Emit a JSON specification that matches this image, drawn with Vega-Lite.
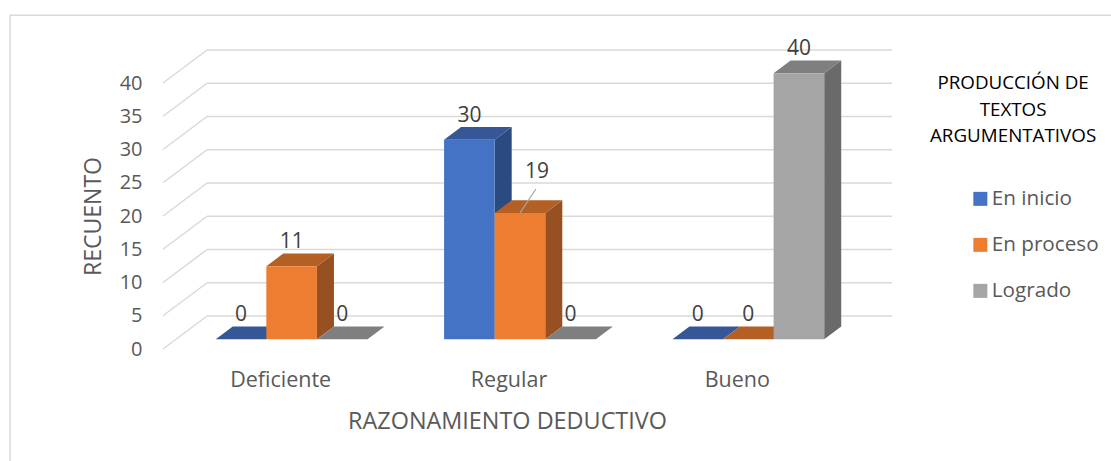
{
"$schema":"https://vega.github.io/schema/vega-lite/v6.json",
"width":685,"height":266,
"autosize":"none",
"padding":{"left":163,"top":83,"right":263,"bottom":112},
"background":"white",
"config":{"view":{"stroke":null},"font":"Open Sans","axis":{"grid":false,"domain":false,"ticks":false,"labelOverlap":false}},
"data":{"values":[
{"categoria":"Deficiente","serie":"En inicio","valor":0},
{"categoria":"Deficiente","serie":"En proceso","valor":11},
{"categoria":"Deficiente","serie":"Logrado","valor":0},
{"categoria":"Regular","serie":"En inicio","valor":30},
{"categoria":"Regular","serie":"En proceso","valor":19},
{"categoria":"Regular","serie":"Logrado","valor":0},
{"categoria":"Bueno","serie":"En inicio","valor":0},
{"categoria":"Bueno","serie":"En proceso","valor":0},
{"categoria":"Bueno","serie":"Logrado","valor":40}
]},
"transform":[
{"calculate":"indexof(['Deficiente','Regular','Bueno'],datum.categoria)","as":"g"},
{"calculate":"indexof(['En inicio','En proceso','Logrado'],datum.serie)","as":"s"},
{"calculate":"datum.g+0.231+datum.s*0.2216","as":"x0"},
{"calculate":"datum.x0+0.2216","as":"x1"},
{"calculate":"datum.valor+1.46","as":"t"},
{"calculate":"1.46","as":"base"}
],
"layer":[
{"transform":[{"filter":"datum.g==0&&datum.s==0"},{"calculate":"-0.67","as":"mx0"},{"calculate":"4.2","as":"mx1"},{"calculate":"50.2","as":"my0"},{"calculate":"-17.4","as":"my1"}],
 "mark":{"type":"rect","fill":"transparent","stroke":"#D9D9D9","strokeWidth":1.5},
 "encoding":{
  "x":{"field":"mx0","type":"quantitative","title":"RAZONAMIENTO DEDUCTIVO","scale":{"domain":[0,3],"nice":false,"zero":false},
   "axis":{"values":[0.5,1.5,2.5],"labelExpr":"['Deficiente','Regular','Bueno'][floor(datum.value)]","labelOffset":3,"labelFont":"Open Sans","labelFontSize":21.5,"labelColor":"#595959","labelPadding":20,"titleFont":"Open Sans","titleFontSize":23.4,"titleFontWeight":"normal","titleColor":"#595959","titleX":344,"titleY":72,"titleBaseline":"middle"}},
  "x2":{"field":"mx1"},
  "y":{"field":"my0","type":"quantitative","title":"RECUENTO","scale":{"domain":[0,40],"nice":false,"zero":false},
   "axis":{"values":[0,5,10,15,20,25,30,35,40],"tickCount":9,"labelOverlap":false,"labelSeparation":0,"labelFont":"Open Sans","labelFontSize":20,"labelColor":"#595959","labelPadding":21,"titleFont":"Open Sans","titleFontSize":23,"titleFontWeight":"normal","titleColor":"#595959","titleX":-70,"titleY":133,"titleBaseline":"middle"}},
  "y2":{"field":"my1"}
 }},
{"data":{"values":[{"marca":0},{"marca":5},{"marca":10},{"marca":15},{"marca":20},{"marca":25},{"marca":30},{"marca":35},{"marca":40}]},
 "transform":[{"calculate":"datum.marca+4.96","as":"atras"},{"calculate":"0.193","as":"xi"},{"calculate":"3.193","as":"xf"}],"mark":{"type":"rule","color":"#D9D9D9","strokeWidth":1.5},
 "encoding":{"x":{"field":"xi","type":"quantitative"},"x2":{"field":"xf"},"y":{"field":"atras","type":"quantitative"},"y2":{"field":"atras"}}},
{"data":{"values":[{"marca":0},{"marca":5},{"marca":10},{"marca":15},{"marca":20},{"marca":25},{"marca":30},{"marca":35},{"marca":40}]},
 "transform":[{"calculate":"datum.marca+4.96","as":"atras"},{"calculate":"0","as":"xi"},{"calculate":"0.193","as":"xf"}],"mark":{"type":"rule","color":"#D9D9D9","strokeWidth":1.5},
 "encoding":{"x":{"field":"xi","type":"quantitative"},"x2":{"field":"xf"},"y":{"field":"marca","type":"quantitative"},"y2":{"field":"atras"}}},
{"transform":[{"calculate":"[0,1]","as":"paso"},{"flatten":["paso"]},
  {"calculate":"datum.x1+datum.paso*0.0745","as":"xa"},
  {"calculate":"datum.t+datum.paso*1.91","as":"ya"},
  {"calculate":"1.46+datum.paso*1.91","as":"yb"}],
 "mark":{"type":"area","line":false,"opacity":1},
 "encoding":{"x":{"field":"xa","type":"quantitative"},"y":{"field":"ya","type":"quantitative"},"y2":{"field":"yb"},
  "detail":{"field":"categoria"},
  "color":{"field":"serie","type":"nominal","legend":null,"scale":{"domain":["En inicio","En proceso","Logrado"],"range":["#2B4A80","#975021","#6A6A6A"]}}}},
{"transform":[{"calculate":"[0,1,2,3]","as":"paso"},{"flatten":["paso"]},
  {"calculate":"[datum.x0,datum.x0+0.0745,datum.x1,datum.x1+0.0745][datum.paso]","as":"xa"},
  {"calculate":"datum.paso==0?datum.t:datum.t+1.91","as":"ya"},
  {"calculate":"datum.paso==3?datum.t+1.91:datum.t","as":"yb"}],
 "mark":{"type":"area","line":false,"opacity":1},
 "encoding":{"x":{"field":"xa","type":"quantitative"},"y":{"field":"ya","type":"quantitative"},"y2":{"field":"yb"},
  "detail":{"field":"categoria"},
  "color":{"field":"serie","type":"nominal","legend":null,"scale":{"domain":["En inicio","En proceso","Logrado"],"range":["#355797","#B45F24","#7F7F7F"]}}}},
{"mark":{"type":"rect"},
 "encoding":{"x":{"field":"x0","type":"quantitative"},"x2":{"field":"x1"},"y":{"field":"t","type":"quantitative"},"y2":{"field":"base"},
  "color":{"field":"serie","type":"nominal","scale":{"domain":["En inicio","En proceso","Logrado"],"range":["#4472C4","#ED7D31","#A5A5A5"]},
   "legend":{"title":null,"orient":"none","legendX":807,"legendY":105.5,"symbolType":"square","symbolSize":196,"symbolStrokeWidth":0,"labelFont":"Open Sans","labelFontSize":20.7,"labelColor":"#595959","labelOffset":1,"rowPadding":24}}}},
{"transform":[{"filter":"datum.valor==19"},{"calculate":"(datum.x0+datum.x1)/2","as":"xc"},{"calculate":"datum.xc+0.07","as":"xd"},{"calculate":"datum.t+3.6","as":"yd"}],
 "mark":{"type":"rule","color":"#A6A6A6","strokeWidth":1.2},
 "encoding":{"x":{"field":"xc","type":"quantitative"},"x2":{"field":"xd"},"y":{"field":"t","type":"quantitative"},"y2":{"field":"yd"}}},
{"transform":[{"calculate":"(datum.x0+datum.x1)/2+(datum.valor==19?0.0745:0)","as":"xl"},{"calculate":"datum.t+(datum.valor==19?6.15:3.6)","as":"yl"}],
 "mark":{"type":"text","font":"Open Sans","fontSize":21,"color":"#404040","baseline":"middle","align":"center"},
 "encoding":{"x":{"field":"xl","type":"quantitative"},"y":{"field":"yl","type":"quantitative"},"text":{"field":"valor","type":"quantitative"}}},
{"transform":[{"filter":"datum.g==0&&datum.s==0"},{"calculate":"3.723","as":"lx"},{"calculate":"41.35","as":"ly"}],
 "mark":{"type":"text","text":["PRODUCCIÓN DE","TEXTOS","ARGUMENTATIVOS"],"lineHeight":26.5,"font":"Open Sans","fontSize":18.8,"color":"#000000","baseline":"top","align":"center"},
 "encoding":{"x":{"field":"lx","type":"quantitative"},"y":{"field":"ly","type":"quantitative"}}}
],
"resolve":{"scale":{"color":"independent"}}
}
